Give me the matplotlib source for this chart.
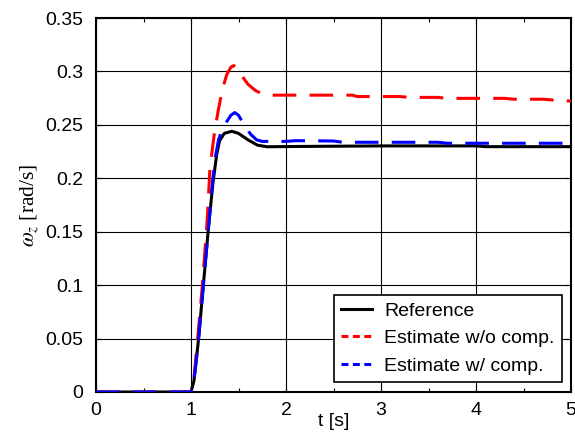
import matplotlib
matplotlib.use("Agg")
import matplotlib.pyplot as plt
from matplotlib.lines import Line2D
from matplotlib.ticker import MultipleLocator
import numpy as np

# ---- data ----
t_ref = [0.0, 1.0, 1.03, 1.05, 1.08, 1.13, 1.18, 1.23, 1.27, 1.30, 1.35, 1.43, 1.50, 1.60, 1.70, 1.80,
         2.0, 3.0, 4.0, 4.1, 5.0]
w_ref = [0.0, 0.0, 0.010, 0.025, 0.050, 0.100, 0.150, 0.195, 0.222, 0.235, 0.242, 0.244, 0.242, 0.236,
         0.231, 0.2295, 0.2297, 0.2303, 0.2303, 0.2296, 0.2296]

t_nocomp = [0.0, 1.0, 1.03, 1.07, 1.12, 1.17, 1.20, 1.25, 1.29, 1.33, 1.376, 1.42, 1.45, 1.50, 1.55,
            1.60, 1.68, 1.76, 1.85, 2.0, 2.7, 2.75, 3.2, 3.3, 3.6, 3.7, 4.3, 4.4, 4.7, 4.85, 5.0]
w_nocomp = [0.0, 0.0, 0.012, 0.050, 0.100, 0.160, 0.210, 0.245, 0.265, 0.283, 0.297, 0.304, 0.3055,
            0.302, 0.294, 0.288, 0.282, 0.2787, 0.2778, 0.2778, 0.2778, 0.2765, 0.2765, 0.2757,
            0.2757, 0.2748, 0.2748, 0.2740, 0.2740, 0.2730, 0.2723]

t_comp = [0.0, 1.0, 1.03, 1.08, 1.13, 1.18, 1.22, 1.25, 1.29, 1.33, 1.376, 1.42, 1.46, 1.50, 1.57,
          1.63, 1.69, 1.75, 2.0, 2.1, 2.5, 2.6, 3.6, 3.7, 5.0]
w_comp = [0.0, 0.0, 0.010, 0.050, 0.100, 0.150, 0.190, 0.217, 0.236, 0.246, 0.253, 0.259, 0.2615,
          0.259, 0.2483, 0.241, 0.236, 0.2345, 0.2345, 0.2352, 0.2349, 0.2337, 0.2337, 0.2328, 0.2328]

labels = ["Reference", "Estimate w/o comp.", "Estimate w/ comp."]
xticks = [0, 1, 2, 3, 4, 5]
yticks = [0, 0.05, 0.1, 0.15, 0.2, 0.25, 0.3, 0.35]
ytick_labels = ["0", "0.05", "0.1", "0.15", "0.2", "0.25", "0.3", "0.35"]

plt.rcParams['font.family'] = ['Liberation Sans', 'DejaVu Sans']
plt.rcParams['lines.scale_dashes'] = False
plt.rcParams['mathtext.fontset'] = 'stix'

fig = plt.figure(figsize=(5.75, 4.32), dpi=100)
ax = fig.add_axes([96/575, 1 - 392/432, 475/575, 374/432])

lw = 2.2
ax.plot(t_ref, w_ref, color='black', lw=lw, solid_capstyle='butt', zorder=3)
ax.plot(t_nocomp, w_nocomp, color='red', lw=lw, dashes=(17, 9.5), zorder=4)
ax.plot(t_comp, w_comp, color='blue', lw=lw, dashes=(17, 9.5), zorder=5)

ax.set_xlim(0, 5)
ax.set_ylim(0, 0.35)
ax.set_xticks(xticks)
ax.set_xticklabels([str(x) for x in xticks])
ax.set_yticks(yticks)
ax.set_yticklabels(ytick_labels)
ax.xaxis.set_minor_locator(MultipleLocator(0.5))

ax.grid(True, which='major', color='black', lw=0.8)
ax.set_axisbelow(True)
ax.tick_params(axis='both', which='both', direction='in', top=True, right=True,
               labelsize=14, colors='black')
ax.tick_params(which='major', length=4, width=0.8)
ax.tick_params(which='minor', length=3, width=0.8)
ax.tick_params(axis='x', pad=7)
ax.tick_params(axis='y', pad=9)
for s in ax.spines.values():
    s.set_linewidth(1.5)
    s.set_color('black')

ax.set_xlabel("t [s]", fontsize=14)
ax.xaxis.set_label_coords(0.5, -29/374)
ax.xaxis.label.set_va('center')
ax.set_ylabel(r"$\omega_z$ [rad/s]", fontsize=15.5, family='Liberation Serif')
ax.yaxis.set_label_coords(-66/475, 0.5)
ax.yaxis.label.set_va('center')

handles = [
    Line2D([], [], color='black', lw=lw),
    Line2D([], [], color='red', lw=lw, dashes=(5, 3.2)),
    Line2D([], [], color='blue', lw=lw, dashes=(5, 3.2)),
]
leg = ax.legend(handles, labels, loc='lower right', bbox_to_anchor=(466/475, 10/374),
                borderaxespad=0, fontsize=14, fancybox=False, framealpha=1,
                edgecolor='black', handlelength=1.55, handletextpad=0.65,
                labelspacing=0.5, borderpad=0.38)
leg.get_frame().set_linewidth(1.2)
leg.set_zorder(10)

fig.savefig("out.png", dpi=100)
